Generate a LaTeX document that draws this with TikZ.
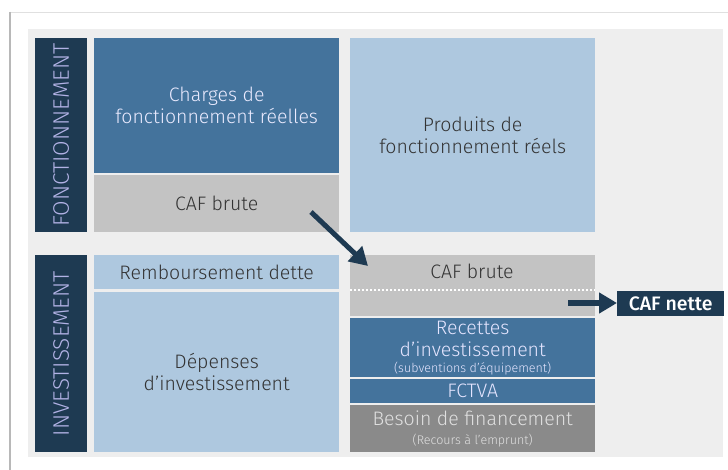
\documentclass[tikz,border=0pt]{standalone}
\usepackage{fontspec}
\setmainfont{Fira Sans}[UprightFont={* Light},BoldFont={* Medium}]
\usepackage{tikz}
\usetikzlibrary{arrows.meta}
\definecolor{navy}{HTML}{1E3A52}
\definecolor{dblue}{HTML}{44739C}
\definecolor{lblue}{HTML}{AEC8DF}
\definecolor{cafgray}{HTML}{C3C3C3}
\definecolor{dgray}{HTML}{8A8A8A}
\definecolor{panel}{HTML}{EEEEEE}
\newcommand{\smalltext}[1]{{\fontsize{12.5}{13}\selectfont #1}}

\begin{document}
\begin{tikzpicture}[x=1pt,y=-1pt,font=\fontsize{19.5}{22}\selectfont]
% Box styles
\tikzstyle{block}=[rectangle,anchor=north west,inner sep=0,align=center,text=black!80];
\tikzstyle{side label}=[rotate=90,text=white!75!blue!80!gray,font=\fontsize{22.5}{24}\selectfont];
\tikzstyle{arrow}=[navy,line width=5pt,-{Triangle[length=18pt,width=20pt]}];
\useasboundingbox (0,0) rectangle (728,470);
% Frame and panel
\fill[white] (0,0) rectangle (728,470);
\draw[black!12] (10,12) -- (728,12);
\draw[black!28,line width=1.2pt] (10,12) -- (10,470);
\fill[panel] (28,29) rectangle (723,457);
% Fonctionnement
\node(fbar)[block,fill=navy,minimum width=52,minimum height=194] at (35,38){};
\node[side label]at(fbar.center){FONCTIONNEMENT};
\node(charges)[block,fill=dblue,text=white!92!blue,minimum width=245,minimum height=135] at (94,38){Charges de\\fonctionnement réelles};
\node(cafA)[block,fill=cafgray,minimum width=245,minimum height=57] at (94,175){CAF brute};
\node(produits)[block,fill=lblue,minimum width=245,minimum height=194] at (350,38){Produits de\\fonctionnement réels};
% Investissement
\node(ibar)[block,fill=navy,minimum width=52,minimum height=197] at (35,255){};
\node[side label]at(ibar.center){INVESTISSEMENT};
\node(rembt)[block,fill=lblue,minimum width=245,minimum height=34] at (94,255){Remboursement dette};
\node(depenses)[block,fill=lblue,minimum width=245,minimum height=160] at (94,292){Dépenses\\d'investissement};
\node(cafB)[block,fill=cafgray,minimum width=245,minimum height=61] at (350,255){};
\node[text=black!80]at(472,271){CAF brute};
\draw[white,line width=1.6pt,dash pattern=on 2pt off 2pt] (350,290) -- (595,290);
\node(recettes)[block,fill=dblue,text=white!90!blue,minimum width=245,minimum height=59] at (350,318){Recettes\\d'investissement\\[-6pt]\smalltext{(subventions d'équipement)}};
\node(fctva)[block,fill=dblue,text=white!90!blue,minimum width=245,minimum height=24] at (350,379){FCTVA};
\node(besoin)[block,fill=dgray,text=white!88!black,minimum width=245,minimum height=47] at (350,405){Besoin de financement\\[-3pt]\smalltext{(Recours à l'emprunt)}};
% CAF nette
\node(cafnette)[block,fill=navy,text=white,font=\fontsize{19.5}{20}\selectfont\bfseries,minimum width=107,minimum height=25] at (617,291){CAF nette};
% Arrows
\coordinate(a1) at (311,212);
\coordinate(a2) at (368,266);
\coordinate(b1) at (568,303);
\draw[arrow] (a1) -- (a2);
\draw[arrow] (b1) -- (b1 -| cafnette.west);
\end{tikzpicture}
\end{document}
